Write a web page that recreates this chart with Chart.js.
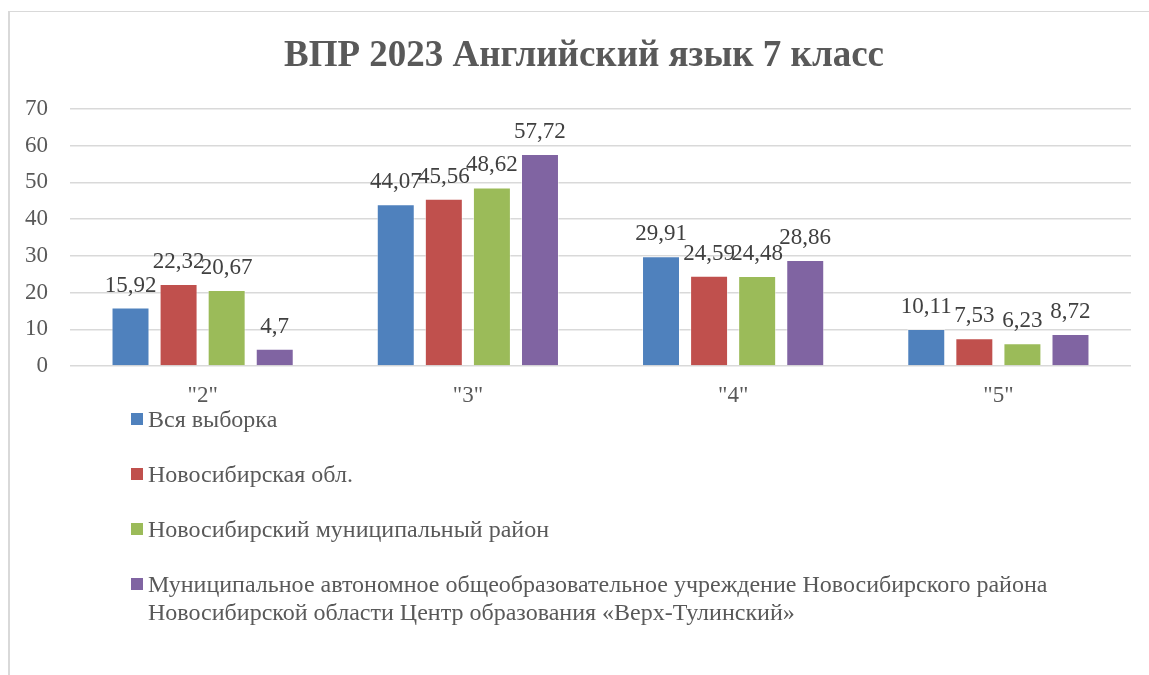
<!DOCTYPE html>
<html>
<head>
<meta charset="utf-8">
<script src="https://cdn.jsdelivr.net/npm/chart.js@4"></script>
<style>
  body { margin: 0; background: #fff; }
  #frame { position: absolute; left: 8px; top: 11px; width: 1160px; height: 700px;
           border-top: 1px solid #d9d9d9; border-left: 2px solid #d9d9d9; }
  #wrap { position: absolute; left: 0; top: 0; width: 1149px; height: 675px; }
</style>
</head>
<body>
<div id="frame"></div>
<div id="wrap"><canvas id="chart"></canvas></div>
<script>
const titleText = 'ВПР 2023 Английский язык 7 класс';
const categories = ['"2"', '"3"', '"4"', '"5"'];
const seriesNames = [
  'Вся выборка',
  'Новосибирская обл.',
  'Новосибирский муниципальный район',
  'Муниципальное автономное общеобразовательное учреждение Новосибирского района\nНовосибирской области Центр образования «Верх-Тулинский»'
];
const allSample = [15.92, 44.07, 29.91, 10.11];
const region = [22.32, 45.56, 24.59, 7.53];
const district = [20.67, 48.62, 24.48, 6.23];
const school = [4.7, 57.72, 28.86, 8.72];
const colors = ['#4f81bd', '#c0504d', '#9bbb59', '#8064a2'];
const yTicks = [0, 10, 20, 30, 40, 50, 60, 70];

const serif = "'Liberation Serif', 'Times New Roman', serif";

// values above bars + title + legend drawn by hand
const extras = {
  id: 'extras',
  afterDatasetsDraw(chart) {
    const ctx = chart.ctx;
    ctx.save();
    ctx.font = '23px ' + serif;
    ctx.fillStyle = '#404040';
    ctx.textAlign = 'center';
    ctx.textBaseline = 'alphabetic';
    chart.data.datasets.forEach((ds, i) => {
      chart.getDatasetMeta(i).data.forEach((bar, j) => {
        ctx.fillText(String(ds.data[j]).replace('.', ','), bar.x, bar.y - 16);
      });
    });
    ctx.restore();
  },
  afterDraw(chart) {
    const ctx = chart.ctx;
    ctx.save();
    ctx.fillStyle = '#595959';
    ctx.font = 'bold 37px ' + serif;
    ctx.textAlign = 'center';
    ctx.fillText(titleText, 584, 66);

    ctx.font = '24px ' + serif;
    ctx.textAlign = 'left';
    let y = 427;
    chart.data.datasets.forEach((ds) => {
      ctx.fillStyle = ds.backgroundColor;
      ctx.fillRect(131, y - 14, 12, 12);
      ctx.fillStyle = '#595959';
      ds.label.split('\n').forEach((line, k) => {
        ctx.fillText(line, 148, y + k * 28);
      });
      y += 55;
    });
    ctx.restore();
  }
};

const datasets = [allSample, region, district, school].map((d, i) => ({
  label: seriesNames[i],
  data: d,
  backgroundColor: colors[i],
  borderColor: 'rgba(255,255,255,0.5)',
  borderWidth: 1,
  categoryPercentage: 0.725,
  barPercentage: 0.79
}));

new Chart(document.getElementById('chart'), {
  type: 'bar',
  data: { labels: categories, datasets: datasets },
  options: {
    responsive: true,
    maintainAspectRatio: false,
    animation: false,
    layout: { padding: { left: 0, right: 18, top: 109, bottom: 0 } },
    plugins: {
      legend: { display: false },
      title: { display: false },
      tooltip: { enabled: false }
    },
    scales: {
      x: {
        grid: { display: false },
        border: { display: false },
        ticks: { color: '#595959', font: { family: serif, size: 23 }, padding: 8 },
        afterFit(s) { s.height = 309; }
      },
      y: {
        min: 0,
        max: 70,
        afterBuildTicks(s) { s.ticks = yTicks.map(v => ({ value: v })); },
        grid: { color: '#d9d9d9', lineWidth: 1.5, drawTicks: false },
        border: { display: false },
        ticks: { color: '#595959', font: { family: serif, size: 23 }, padding: 22 },
        afterFit(s) { s.width = 70; }
      }
    }
  },
  plugins: [extras]
});
</script>
</body>
</html>
